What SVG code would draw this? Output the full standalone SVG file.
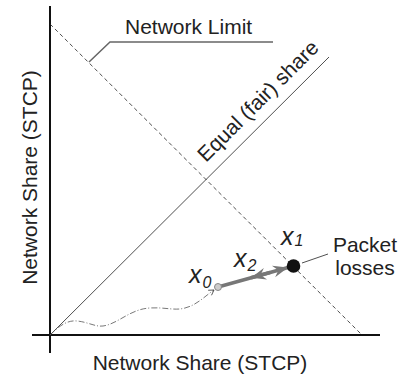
<svg xmlns="http://www.w3.org/2000/svg" width="401" height="376" viewBox="0 0 401 376">
<style>
text{font-family:"Liberation Sans",Arial,sans-serif;fill:#222;font-size:21px}
.var{font-style:italic;font-size:25px}
.sub{font-size:16px}
.axis{stroke:#111;stroke-width:2;fill:none}
.thin{stroke:#222;stroke-width:0.8;fill:none}
.dash{stroke:#222;stroke-width:0.8;fill:none;stroke-dasharray:4 3}
.dashdot{stroke:#555;stroke-width:0.8;fill:none;stroke-dasharray:6 2 1 2}
.move{stroke:#777;stroke-width:3.5;fill:none}
</style>
<defs>
<marker id="ah" viewBox="-16 -7 17 14" refX="0" refY="0" markerWidth="17" markerHeight="14" markerUnits="userSpaceOnUse" orient="auto">
<path d="M0,0 L-15,-6 L-10,0 L-15,6 Z" fill="#777"/>
</marker>
<marker id="small" viewBox="-6 -4 7 8" refX="0" refY="0" markerWidth="7" markerHeight="8" markerUnits="userSpaceOnUse" orient="auto">
<path d="M-5,-3 L0,0 L-5,3" fill="none" stroke="#444" stroke-width="0.8"/>
</marker>
</defs>
<g id="axes">
<line class="axis" x1="50" y1="6" x2="50" y2="353"/>
<line class="axis" x1="32" y1="335" x2="380" y2="335"/>
<text transform="translate(37,177.5) rotate(-90)" text-anchor="middle">Network Share (STCP)</text>
<text x="200" y="370" text-anchor="middle">Network Share (STCP)</text>
</g>
<g id="connectors">
<line class="dash" x1="50" y1="24" x2="362" y2="335"/>
<line class="thin" x1="50" y1="335" x2="329" y2="57"/>
<polyline points="89,62 110,42 273,42" fill="none" stroke="#666" stroke-width="1.5"/>
<line class="thin" x1="302" y1="263" x2="328" y2="254"/>
<path class="dashdot" d="M50,335 C60,325 68,320 77,321 C88,322 95,327 103,326 C118,324 130,309 150,308 C165,307 175,311 185,308 C197,305 205,296 214,290" marker-end="url(#small)"/>
<line class="move" x1="218" y1="287" x2="288" y2="267.5" marker-end="url(#ah)"/>
<line class="move" x1="270" y1="272.5" x2="251" y2="277.8" marker-end="url(#ah)"/>
</g>
<g id="network-limit">
<text x="125" y="34">Network Limit</text>
</g>
<g id="equal-share">
<text transform="translate(206,163) rotate(-45)">Equal (fair) share</text>
</g>
<g id="x0">
<circle cx="218" cy="287" r="3.5" fill="#ccc" stroke="#888" stroke-width="1"/>
<text class="var" x="189" y="283">x<tspan class="sub" dy="5" dx="1">0</tspan></text>
</g>
<g id="x2">
<text class="var" x="234" y="267">x<tspan class="sub" dy="4" dx="1">2</tspan></text>
</g>
<g id="x1">
<circle cx="293.5" cy="266" r="6.8" fill="#111"/>
<text class="var" x="281" y="245">x<tspan class="sub" dy="1" dx="1">1</tspan></text>
</g>
<g id="packet-losses">
<text x="365" y="252" text-anchor="middle">Packet</text>
<text x="365" y="275" text-anchor="middle">losses</text>
</g>
</svg>
